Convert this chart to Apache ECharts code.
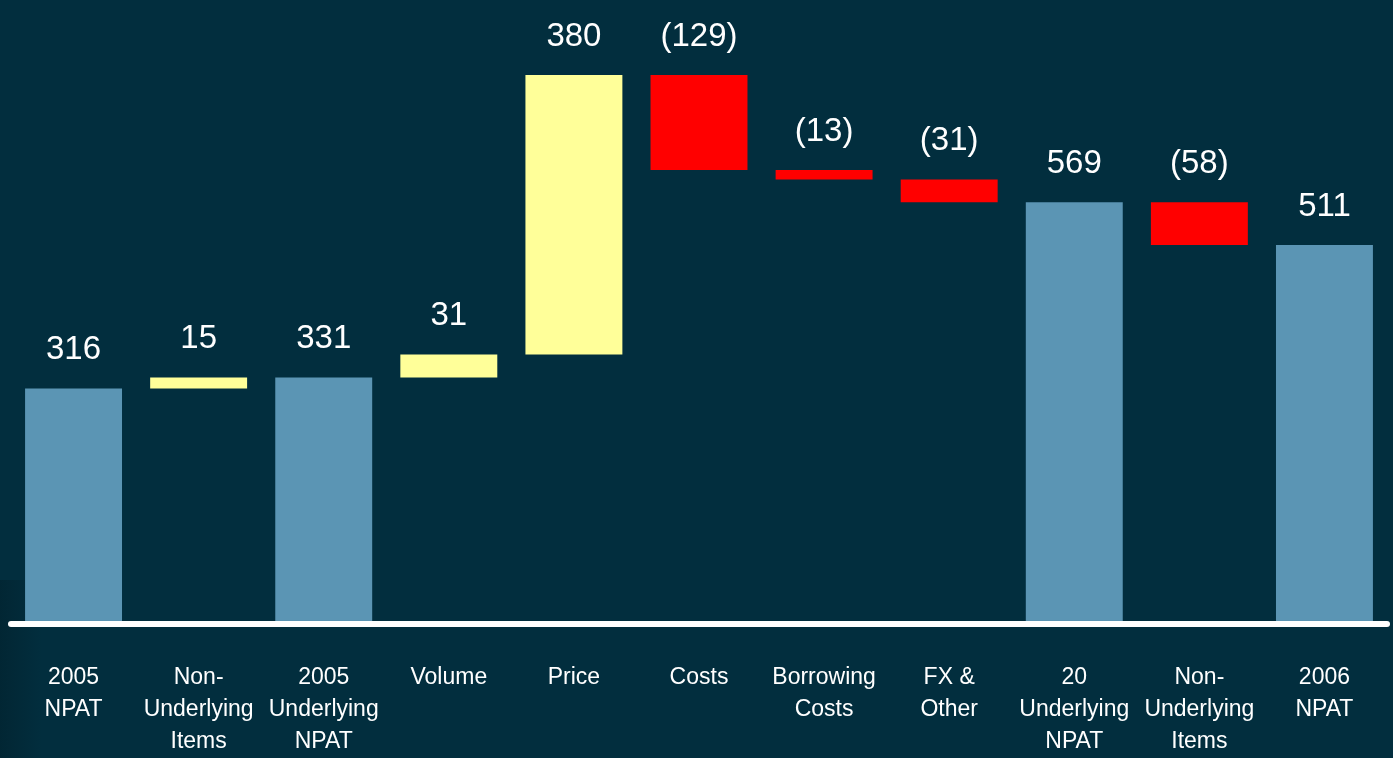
<!DOCTYPE html>
<html>
<head>
<meta charset="utf-8">
<script src="https://cdn.jsdelivr.net/npm/echarts@6/dist/echarts.min.js"></script>
<style>
  html, body { margin: 0; padding: 0; background: #022e3e; }
  #chart { width: 1393px; height: 758px; }
</style>
</head>
<body>
<div id="chart"></div>
<script>
// categories along the x axis
const categories = [
    '2005\nNPAT', 'Non-\nUnderlying\nItems', '2005\nUnderlying\nNPAT', 'Volume', 'Price', 'Costs',
    'Borrowing\nCosts', 'FX &\nOther', '20\nUnderlying\nNPAT', 'Non-\nUnderlying\nItems', '2006\nNPAT'
];
// bar values: totals are full bars, the rest are steps
const values = [316, 15, 331, 31, 380, -129, -13, -31, 569, -58, 511];
const isTotal = [true, false, true, false, false, false, false, false, true, false, true];

const colors = { total: '#5b95b4', up: '#ffff99', down: '#ff0000' };
const font = '"Liberation Sans Narrow", "Arial Narrow", "Liberation Sans", Arial, sans-serif';

// build the hidden base and the visible bar for each step
const base = [];
const bars = [];
let running = 0;
for (let i = 0; i < values.length; i++) {
    const v = values[i];
    if (isTotal[i]) {
        running = v;
        base.push(0);
        bars.push({ value: v, itemStyle: { color: colors.total } });
    } else {
        const start = running;
        running = start + v;
        base.push(Math.min(start, running));
        bars.push({ value: Math.abs(v), itemStyle: { color: v < 0 ? colors.down : colors.up } });
    }
}

function fmt(i) {
    const v = values[i];
    return v < 0 ? '(' + Math.abs(v) + ')' : String(v);
}

const chart = echarts.init(document.getElementById('chart'));
const option = {
    backgroundColor: '#022e3e',
    animation: false,
    graphic: [{
        type: 'rect',
        left: 0, top: 580,
        shape: { width: 42, height: 178 },
        style: {
            fill: new echarts.graphic.LinearGradient(0, 0, 1, 0, [
                { offset: 0, color: 'rgba(0,20,28,0.3)' },
                { offset: 1, color: 'rgba(0,20,28,0)' }
            ])
        },
        z: -1
    }],
    grid: { left: 11, right: 6, top: 22, bottom: 136 },
    xAxis: {
        type: 'category',
        data: categories,
        offset: 3,
        axisLine: { onZero: false, lineStyle: { color: '#ffffff', width: 6 } },
        axisTick: { show: false },
        axisLabel: {
            color: '#ffffff',
            fontFamily: font,
            fontSize: 23,
            lineHeight: 32,
            margin: 38,
            interval: 0
        }
    },
    yAxis: {
        type: 'value',
        min: 0,
        max: 814,
        show: false,
        splitLine: { show: false }
    },
    series: [
        {
            type: 'bar',
            stack: 'w',
            data: base,
            itemStyle: { color: 'transparent' },
            silent: true,
            barWidth: '77.5%'
        },
        {
            type: 'bar',
            stack: 'w',
            data: bars,
            barWidth: '77.5%',
            label: {
                show: true,
                position: 'top',
                distance: 22,
                color: '#ffffff',
                fontFamily: font,
                fontSize: 33,
                formatter: p => fmt(p.dataIndex)
            }
        }
    ]
};
chart.setOption(option);
</script>
</body>
</html>
